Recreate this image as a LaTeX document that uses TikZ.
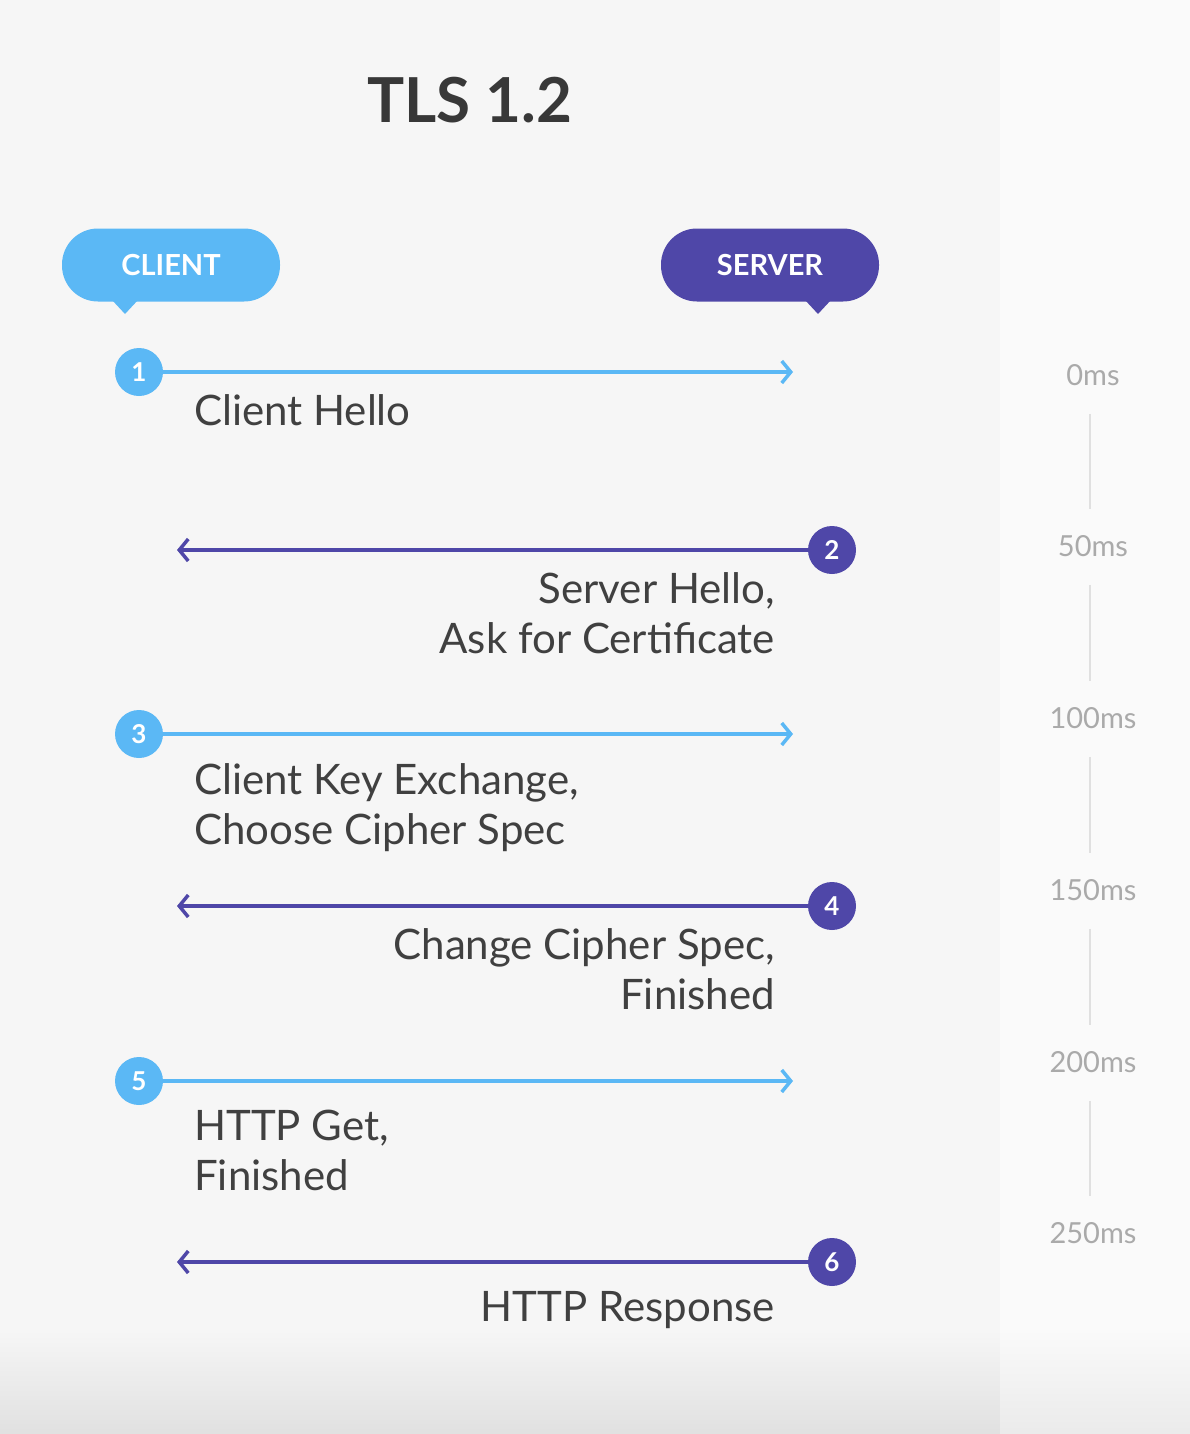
\documentclass[tikz,border=0pt]{standalone}
\usepackage{fontspec}
\setmainfont{Lato}
\usetikzlibrary{arrows.meta}
\definecolor{cl}{HTML}{5BB8F5}
\definecolor{sv}{HTML}{4F47A8}
\definecolor{bgl}{HTML}{F6F6F6}
\definecolor{tg}{HTML}{AAAAAA}
\tikzset{
 x=1pt,y=-1pt,
 bubble/.style={rounded corners=36,minimum width=218,minimum height=73,inner sep=0,text=white,font=\fontsize{29}{30}\selectfont\bfseries},
 num/.style={circle,minimum size=48,inner sep=0,text=white,font=\fontsize{26}{26}\selectfont\bfseries},
 msg/.style={line width=4.5,-{Straight Barb[length=9,width=22,line width=3.5]}},
 lbl/.style={font=\fontsize{42}{50}\selectfont,text=black!75,inner sep=0},
 tm/.style={font=\fontsize{29}{30}\selectfont,text=tg,inner sep=0},
 tl/.style={draw=black!12,line width=1.5}
}
\begin{document}
\begin{tikzpicture}
\useasboundingbox (0,0) rectangle (1190,1434);
\fill[white!98!black] (0,0) rectangle (1190,1434);
\fill[bgl] (0,0) rectangle (1000,1434);
\shade[top color=bgl,bottom color=black!12] (0,1330) rectangle (1000,1434);
\shade[top color=white!98!black,bottom color=black!8] (1000,1330) rectangle (1190,1434);
\node[font=\fontsize{62}{62}\selectfont\bfseries,text=black!78] (title) at (470,100) {TLS 1.2};
\fill[cl] (112,300) -- (125,314) -- (138,300) -- cycle;
\fill[sv] (805,300) -- (818,314) -- (831,300) -- cycle;
\node[bubble,fill=cl] (client) at (171,265) {CLIENT};
\node[bubble,fill=sv] (server) at (770,265) {SERVER};
% arrows
\foreach \i/\y in {1/372,3/734,5/1081}{
 \node[num,fill=cl] (n\i) at (139,\y) {\i};
 \coordinate (e\i) at (793,\y);
 \draw[msg,draw=cl] (n\i) -- (e\i);
}
\foreach \i/\y in {2/550,4/906,6/1262}{
 \node[num,fill=sv] (n\i) at (832,\y) {\i};
 \coordinate (e\i) at (177,\y);
 \draw[msg,draw=sv] (n\i) -- (e\i);
}
\node[lbl,anchor=north west,align=left] (l1) at (194,394) {Client Hello};
\node[lbl,anchor=north east,align=right] (l2) at (775,572) {Server Hello,\\Ask for Certificate};
\node[lbl,anchor=north west,align=left] (l3) at (194,763) {Client Key Exchange,\\Choose Cipher Spec};
\node[lbl,anchor=north east,align=right] (l4) at (775,928) {Change Cipher Spec,\\Finished};
\node[lbl,anchor=north west,align=left] (l5) at (194,1110) {HTTP Get,\\Finished};
\node[lbl,anchor=north east,align=right] (l6) at (775,1291) {HTTP Response};
% timeline
\foreach \t/\y in {0/375,50/546,100/718,150/890,200/1062,250/1233}{
 \node[tm] (t\t) at (1093,\y) {\t ms};
}
\foreach \a/\b in {0/50,50/100,100/150,150/200,200/250}{
 \draw[tl] ([yshift=-28]t\a.south -| 1090,0) -- ([yshift=26]t\b.north -| 1090,0);
}
\end{tikzpicture}
\end{document}
